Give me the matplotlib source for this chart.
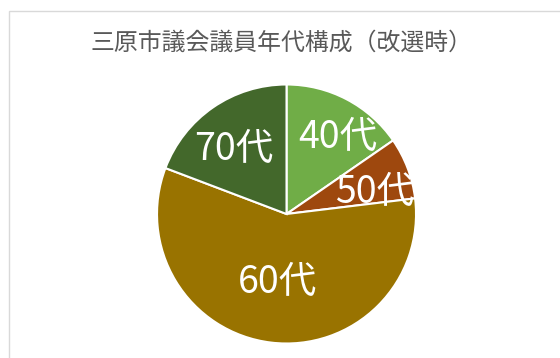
import matplotlib
matplotlib.use("Agg")
import matplotlib.pyplot as plt
import numpy as np
from matplotlib.patches import Rectangle

# 三原市議会 議員年代構成（26人）
labels = ["40代", "50代", "60代", "70代"]
counts = [4, 2, 15, 5]
colors = ["#70AD47", "#9E480E", "#997300", "#43682B"]
title = "三原市議会議員年代構成（改選時）"

plt.rcParams['font.family'] = ['Noto Sans CJK JP', 'DejaVu Sans']

fig = plt.figure(figsize=(5.6, 3.58), dpi=100)
fig.patch.set_facecolor("white")

# chart frame (light gray border)
fig.patches.append(Rectangle((9 / 560, -0.1), 1.2, 1 - 10.5 / 358 + 0.1,
                             transform=fig.transFigure, fill=False,
                             edgecolor="#D9D9D9", linewidth=1.0))

fig.text(281 / 560, 1 - 43 / 358, title, ha="center", va="center",
         fontsize=17.2, color="#595959")

ax = fig.add_axes([0.2804, 0.0405, 0.4625, 0.7235])
wedges, _ = ax.pie(counts, colors=colors, startangle=90, counterclock=False,
                   radius=1, wedgeprops=dict(edgecolor="white", linewidth=1.5))
ax.set_aspect("auto")
ax.set_xlim(-1, 1)
ax.set_ylim(-1, 1)
ax.axis("off")

# label placement (radius factor, angle tweak in degrees)
lab_r = [0.71, 0.70, 0.53, 0.64]
lab_da = [-6, -7, -1, 4.5]
for w, lab, r, da in zip(wedges, labels, lab_r, lab_da):
    mid = np.deg2rad((w.theta1 + w.theta2) / 2 + da)
    ax.text(r * np.cos(mid), r * np.sin(mid), lab, ha="center", va="center",
            fontsize=27, color="white")

fig.savefig("out.png", dpi=100)
